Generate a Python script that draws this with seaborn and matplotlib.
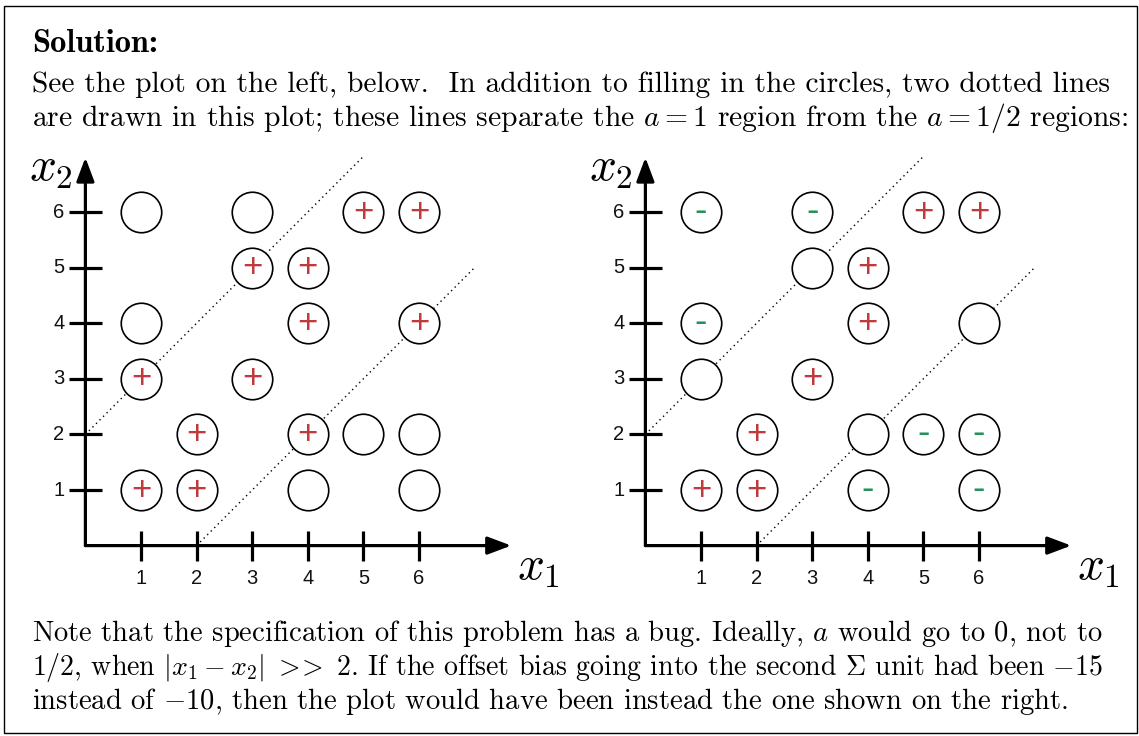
import matplotlib
matplotlib.use("Agg")
import matplotlib.pyplot as plt
import seaborn as sns
from matplotlib.patches import Rectangle

sns.set_theme(style="white")
plt.rcParams["mathtext.fontset"] = "cm"
plt.rcParams["axes.unicode_minus"] = True
plt.rcParams["text.color"] = "black"

# Grid points (x1, x2) and the marks drawn inside each circle
x1_vals = [1, 3, 5, 6, 3, 4, 1, 4, 6, 1, 3, 2, 4, 5, 6, 1, 2, 4, 6]
x2_vals = [6, 6, 6, 6, 5, 5, 4, 4, 4, 3, 3, 2, 2, 2, 2, 1, 1, 1, 1]
signs_left = ["", "", "+", "+", "+", "+", "", "+", "+", "+", "+",
              "+", "+", "", "", "+", "+", "", ""]
signs_right = ["-", "-", "+", "+", "", "+", "-", "+", "", "", "+",
               "+", "", "-", "-", "+", "+", "-", "-"]
tick_values = [1, 2, 3, 4, 5, 6]
# Decision-boundary lines x2 = x1 + c, with their x1 extent
boundary_offsets = [2, -2]
boundary_x1 = [(0, 5), (2, 7)]

W, H = 1139, 736
S = 55.6  # pixels per unit
XL, XR, YB, YT = -1.3, 8.8, -1.0, 7.3

RED = "#c0393b"
GREEN = "#22915a"
TICK_FONT = "Liberation Sans"

fig = plt.figure(figsize=(W / 100, H / 100), dpi=100)


def make_axes(ox, oy):
    left = (ox + XL * S) / W
    bottom = (H - (oy - YB * S)) / H
    ax = fig.add_axes([left, bottom, (XR - XL) * S / W, (YT - YB) * S / H])
    ax.set_xlim(XL, XR)
    ax.set_ylim(YB, YT)
    ax.set_axis_off()
    ax.patch.set_alpha(0)
    return ax


def draw_panel(ax, signs):
    # axes with arrowheads
    arrow = dict(arrowstyle="-|>,head_length=0.72,head_width=0.27",
                 lw=2.3, color="black", shrinkA=0, shrinkB=0, mutation_scale=20)
    ax.annotate("", xy=(7.66, 0), xytext=(0, 0), arrowprops=arrow)
    ax.annotate("", xy=(0, 6.98), xytext=(0, 0), arrowprops=arrow)
    for t in tick_values:
        ax.plot([t, t], [-0.27, 0.27], color="black", lw=2.3, solid_capstyle="butt")
        ax.plot([-0.29, 0.29], [t, t], color="black", lw=2.3, solid_capstyle="butt")
        ax.text(t, -0.6, str(t), ha="center", va="center", fontsize=14.5,
                family=TICK_FONT, color="#111111")
        ax.text(-0.38, t, str(t), ha="right", va="center", fontsize=14.5,
                family=TICK_FONT, color="#111111")
    ax.text(-1.02, 6.55, r"$x_2$", fontsize=34, ha="left", va="baseline")
    ax.text(7.76, -0.62, r"$x_1$", fontsize=34, ha="left", va="baseline")

    # dotted separating lines (drawn beneath the white-filled circles)
    for c, (a, b) in zip(boundary_offsets, boundary_x1):
        ax.plot([a, b], [a + c, b + c], color="black", lw=1.0,
                linestyle=(0, (1, 2.6)), zorder=1)

    sns.scatterplot(x=x1_vals, y=x2_vals, s=850, marker="o",
                    facecolors="white", edgecolor="black", linewidth=1.2,
                    ax=ax, legend=False, zorder=3)
    for x, y, sgn in zip(x1_vals, x2_vals, signs):
        if sgn == "+":
            ax.text(x, y, "+", ha="center", va="center", fontsize=25,
                    family=TICK_FONT, color=RED, zorder=4)
        elif sgn == "-":
            ax.text(x, y, "-", ha="center", va="center", fontsize=27,
                    family=TICK_FONT, color=GREEN, zorder=4)


ax_left = make_axes(85.4, 545.6)
ax_right = make_axes(645.4, 545.6)
draw_panel(ax_left, signs_left)
draw_panel(ax_right, signs_right)

# Frame around the solution
fig.patches.append(Rectangle((4 / W, 3 / H), 1133 / W, 727 / H, transform=fig.transFigure,
                             fill=False, edgecolor="black", lw=1.0))

renderer = fig.canvas.get_renderer()
LEFT = 32


def line(y, s, right, family="cmr10", size=21.3):
    # set each paragraph line so that it spans the text block width
    t = fig.text(LEFT / W, 1 - y / H, s, fontsize=size, family=family,
                 va="baseline", ha="left")
    w = t.get_window_extent(renderer).width
    t.set_fontsize(size * (right - LEFT) / w)
    return t


line(52, "Solution:", 158, family="cmb10", size=22)
line(92, "See the plot on the left, below.  In addition to filling in the circles, two dotted lines", 1112)
line(126, r"are drawn in this plot; these lines separate the $a=1$ region from the $a=1/2$ regions:", 1128)
line(641, r"Note that the specification of this problem has a bug. Ideally, $a$ would go to 0, not to", 1103)
line(675, r"1/2, when $|x_1-x_2|\ >\!\!>\ 2$. If the offset bias going into the second $\Sigma$ unit had been $-15$", 1103)
line(709, r"instead of $-10$, then the plot would have been instead the one shown on the right.", 1068)

fig.savefig("out.png", dpi=100, facecolor="white")
